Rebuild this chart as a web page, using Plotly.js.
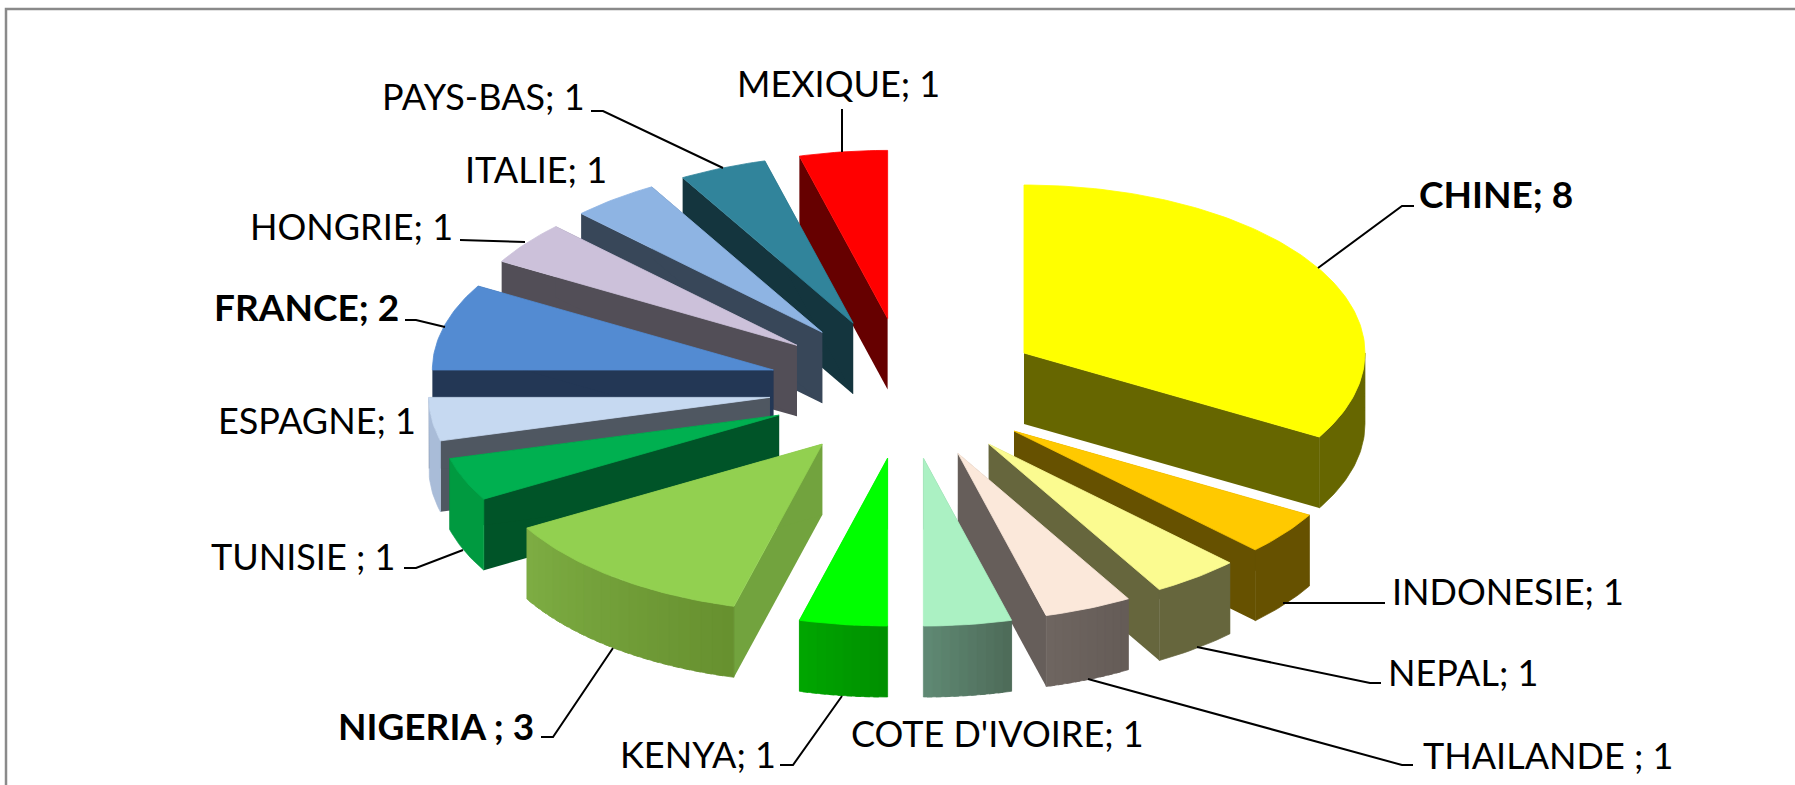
<!DOCTYPE html>
<html><head><meta charset="utf-8">
<script src="https://cdn.plot.ly/plotly-3.0.1.min.js"></script>
<style>html,body{margin:0;padding:0;background:#fff}#c{width:1795px;height:785px}</style>
</head><body><div id="c"></div>
<script>
const countries=["CHINE","INDONESIE","NEPAL","THAILANDE ","COTE D'IVOIRE","KENYA","NIGERIA ","TUNISIE ","ESPAGNE","FRANCE","HONGRIE","ITALIE","PAYS-BAS","MEXIQUE"];
const counts=[8,1,1,1,1,1,3,1,1,2,1,1,1,1];
const topColors=["#FFFF00","#FFC900","#FBFB90","#FBE8DA","#ABF1C3","#00FF00","#92D050","#00B050","#C6D9F1","#538BD2","#CCC1DA","#8EB4E3","#31849B","#FF0000"];
const cutColors=["#666600","#665100","#66663D","#665E5A","#4D6A58","#009A00","#72A33E","#005428","#4F5761","#233755","#524E57","#384759","#14353E","#660000"];
const wallStart=["#666600","#665100","#66663D","#645B57","#4D6A58","#008F00","#66902F","#009A40","#A9BCD8","#233755","#524E57","#384759","#14353E","#660000"];
const wallEnd=["#666600","#665100","#66663D","#6F6660","#608A74","#00A600","#7EAD43","#009A40","#A9BCD8","#233755","#524E57","#384759","#14353E","#660000"];
const boldLabels=["CHINE","NIGERIA ","FRANCE"];

// view of the tilted, exploded pie (pixels of the axes)
const view={cx:905.5,cy:388.2,rx:341,ry:168,ex:136.8,ey:70.4,depth:71};
// label anchors, in the same order as countries
const labelX=[1496,1508,1463,1548,997,698,436,303,317,306,351,536,483,838];
const labelY=[193,591,672,755,733,754,725,556,420,306,226,169,96,83];
const leaderX=[[1414,1402,1318],[1283,1385],[1197,1370,1381],[1088,1402,1413],[],[842,793,780],[613,553,541],[463,416,404],[],[445,416,405],[525,468,460],[],[723,603,591],[842,842]];
const leaderY=[[206,206,268],[603,603],[647,683,683],[679,765,765],[],[696,765,765],[648,737,737],[550,568,568],[],[327,320,320],[242,240,240],[],[168,111,111],[152,109]];

const total=counts.reduce((a,b)=>a+b,0);
const rad=d=>d*Math.PI/180;
function hex(c){return [1,3,5].map(i=>parseInt(c.substr(i,2),16));}
function mix(a,b,t){const A=hex(a),B=hex(b);return 'rgb('+A.map((v,i)=>Math.round(v+(B[i]-v)*t)).join(',')+')';}
function poly(xs,ys,color,w){return {type:'scatter',mode:'lines',x:xs.concat(xs[0]),y:ys.concat(ys[0]),fill:'toself',fillcolor:color,line:{color:color,width:w||0},hoverinfo:'skip',showlegend:false};}

let start=0;
const slices=countries.map((name,i)=>{
  const sweep=counts[i]/total*360,a0=start,a1=start+sweep;start=a1;
  const mid=(a0+a1)/2;
  return {i,a0,a1,mid,ax:view.cx+view.ex*Math.sin(rad(mid)),ay:view.cy-view.ey*Math.cos(rad(mid))};
});
const order=slices.slice().sort((p,q)=>Math.cos(rad(q.mid))-Math.cos(rad(p.mid)));
const traces=[];
order.forEach(s=>{
  const px=d=>s.ax+view.rx*Math.sin(rad(d)), py=d=>s.ay-view.ry*Math.cos(rad(d));
  const d=view.depth;
  // cut faces
  traces.push(poly([s.ax,px(s.a0),px(s.a0),s.ax],[s.ay,py(s.a0),py(s.a0)+d,s.ay+d],cutColors[s.i]));
  traces.push(poly([s.ax,px(s.a1),px(s.a1),s.ax],[s.ay,py(s.a1),py(s.a1)+d,s.ay+d],cutColors[s.i]));
  // outer wall: only the part facing the viewer, shaded in overlapping strips
  const w0=Math.max(s.a0,90),w1=Math.min(s.a1,270);
  if(w1>w0){
    const same=wallStart[s.i]===wallEnd[s.i];
    const strips=same?1:Math.max(10,Math.round((w1-w0)/2));
    for(let k=0;k<strips;k++){
      const u=w0+(w1-w0)*k/strips,v=w0+(w1-w0)*(k+1)/strips;
      const vv=k<strips-1?v+0.6*(w1-w0)/strips:v;
      const xs=[],ys=[],m=Math.max(2,Math.ceil(vv-u));
      for(let j=0;j<=m;j++){const t=u+(vv-u)*j/m;xs.push(px(t));ys.push(py(t));}
      for(let j=m;j>=0;j--){const t=u+(vv-u)*j/m;xs.push(px(t));ys.push(py(t)+d);}
      const col=mix(wallStart[s.i],wallEnd[s.i],(k+.5)/strips);
      traces.push(poly(xs,ys,col,0.7));
    }
  }
  // top face
  const xs=[s.ax],ys=[s.ay],n=Math.max(8,Math.round(s.a1-s.a0));
  for(let k=0;k<=n;k++){const t=s.a0+(s.a1-s.a0)*k/n;xs.push(px(t));ys.push(py(t));}
  traces.push(poly(xs,ys,topColors[s.i],0.8));
});
countries.forEach((c,i)=>{ if(leaderX[i].length) traces.push({type:'scatter',mode:'lines',x:leaderX[i],y:leaderY[i],line:{color:'#000',width:2},hoverinfo:'skip',showlegend:false}); });

const annotations=countries.map((c,i)=>{
  const t=c+'; '+counts[i], bold=boldLabels.includes(c);
  return {x:labelX[i],y:labelY[i],xref:'x',yref:'y',text:bold?'<b>'+t+'</b>':t,showarrow:false,xanchor:'center',yanchor:'middle',font:{family:'Lato, sans-serif',size:bold?37:36,color:'#000'}};
});
const layout={width:1795,height:785,margin:{l:0,r:0,t:0,b:0},paper_bgcolor:'#fff',plot_bgcolor:'#fff',showlegend:false,
  xaxis:{range:[0,1795],visible:false,fixedrange:true},yaxis:{range:[785,0],visible:false,fixedrange:true},
  annotations,
  shapes:[{type:'rect',xref:'x',yref:'y',x0:6,y0:9,x1:1900,y1:900,line:{color:'#8a8a8a',width:2.5},fillcolor:'rgba(0,0,0,0)',layer:'below'}]};
Plotly.newPlot('c',traces,layout,{displayModeBar:false,staticPlot:true});
</script></body></html>
